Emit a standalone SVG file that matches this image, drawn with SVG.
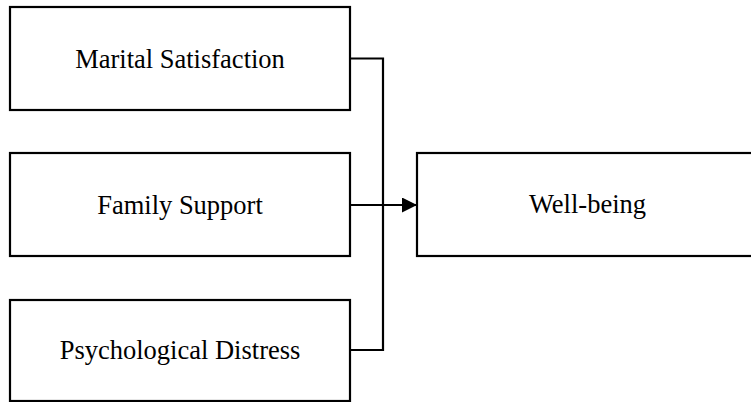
<svg xmlns="http://www.w3.org/2000/svg" width="751" height="402" viewBox="0 0 751 402">
<style>
.box{fill:#fff;stroke:#000;stroke-width:2.2}
.lbl{font-family:"Liberation Serif","Times New Roman",serif;font-size:26.5px;fill:#000;text-anchor:middle}
.con{fill:none;stroke:#000;stroke-width:2.2}
</style>
<defs>
<marker id="arr" markerWidth="16" markerHeight="16" refX="15" refY="7.5" orient="auto" markerUnits="userSpaceOnUse">
<path d="M0,0 L15,7.5 L0,15 Z" fill="#000"/>
</marker>
</defs>
<rect width="751" height="402" fill="#fff"/>
<g id="marital">
<rect class="box" x="10" y="7" width="340" height="103"/>
<text class="lbl" x="180" y="68">Marital Satisfaction</text>
</g>
<g id="family">
<rect class="box" x="10" y="153" width="340" height="103"/>
<text class="lbl" x="180" y="214">Family Support</text>
</g>
<g id="distress">
<rect class="box" x="10" y="300" width="340" height="101"/>
<text class="lbl" x="180" y="359">Psychological Distress</text>
</g>
<g id="wellbeing">
<rect class="box" x="417" y="153" width="341" height="103"/>
<text class="lbl" x="587.5" y="213">Well-being</text>
</g>
<g id="connectors">
<polyline class="con" points="350,58.5 383,58.5 383,350 350,350"/>
<line class="con" x1="350" y1="205" x2="417" y2="205" marker-end="url(#arr)"/>
</g>
</svg>
